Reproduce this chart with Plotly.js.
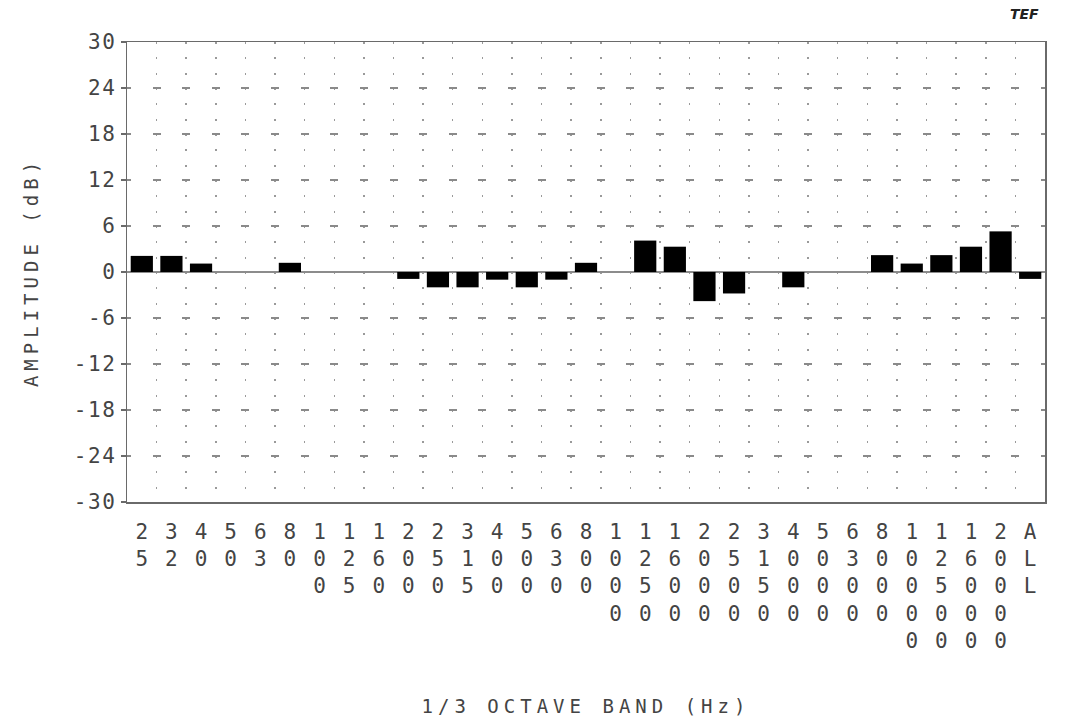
<!DOCTYPE html>
<html>
<head>
<meta charset="utf-8">
<script src="https://cdn.plot.ly/plotly-3.0.1.min.js"></script>
<style>
  html, body { margin: 0; padding: 0; background: #fff; }
  #chart { width: 1065px; height: 726px; }
  .xtitle, .ytitle { letter-spacing: 5px; }
  .ytick text { letter-spacing: 1.5px; }
</style>
</head>
<body>
<div id="chart"></div>
<script>
// 1/3 octave band centre frequencies (Hz) plus overall
const bands = ["25","32","40","50","63","80","100","125","160","200","250","315","400","500","630","800",
               "1000","1250","1600","2000","2500","3150","4000","5000","6300","8000","10000","12500","16000","20000","ALL"];
// amplitude deviation (dB)
const amplitude = [2.1, 2.1, 1.1, 0, 0, 1.2, 0, 0, 0, -0.9, -2.0, -2.0, -1.0, -2.0, -1.0, 1.2,
                   0, 4.1, 3.3, -3.8, -2.8, 0, -2.0, 0, 0, 2.2, 1.1, 2.2, 3.3, 5.3, -0.9];
const yTicks = [-30, -24, -18, -12, -6, 0, 6, 12, 18, 24, 30];

// stacked-digit tick labels
const bandLabels = bands.map(b => b.split("").join("<br>"));

const W = 1065, H = 726;
const M = {l: 127, r: 20, t: 42, b: 224};
const plotW = W - M.l - M.r, plotH = H - M.t - M.b;
const catStep = plotW / bands.length;       // px per category
const minorStep = plotH / 30;               // px per 2 dB
const half = 4;

const trace = {
  type: "bar",
  x: bands,
  y: amplitude,
  marker: {color: "#000", line: {width: 0}},
  hoverinfo: "x+y"
};

const font = "DejaVu Sans Mono, Liberation Mono, monospace";

const layout = {
  width: W, height: H,
  margin: M,
  paper_bgcolor: "#fff",
  plot_bgcolor: "#fff",
  showlegend: false,
  bargap: 0.25,
  font: {family: font, color: "#444"},
  xaxis: {
    type: "category",
    tickmode: "array",
    tickvals: bands,
    ticktext: bandLabels,
    tickson: "boundaries",
    ticks: "",
    ticklabelstandoff: 10,
    tickfont: {family: font, size: 21, color: "#444"},
    showgrid: true,
    gridcolor: "#9a9a9a",
    gridwidth: 1.5,
    griddash: "2px," + (minorStep - 2).toFixed(3) + "px",
    showline: true, mirror: true, linecolor: "#6a6a6a", linewidth: 1.5,
    range: [-0.5, bands.length - 0.5],
    fixedrange: true,
    title: {text: "1/3 OCTAVE BAND (Hz)", font: {family: font, size: 19, color: "#444"}, standoff: 48},
    automargin: false
  },
  yaxis: {
    range: [-30, 30],
    tickmode: "array",
    tickvals: yTicks,
    ticktext: yTicks.map(String),
    ticks: "outside", ticklen: 5, tickcolor: "#6a6a6a", tickwidth: 1.2,
    tickfont: {family: font, size: 21, color: "#444"},
    showgrid: true,
    gridcolor: "#8a8a8a",
    gridwidth: 2,
    griddash: half + "px," + (catStep - 2 * half).toFixed(3) + "px," + half + "px,0px",
    zeroline: true, zerolinecolor: "#8c8c8c", zerolinewidth: 2.5,
    showline: true, mirror: true, linecolor: "#6a6a6a", linewidth: 1.5,
    fixedrange: true,
    title: {text: "AMPLITUDE (dB)", font: {family: font, size: 19, color: "#444"}, standoff: 30},
    automargin: false
  },
  annotations: [{
    text: "<b><i>TEF</i></b>",
    xref: "paper", yref: "paper",
    x: 1.0, y: 1.0, xanchor: "right", yanchor: "bottom",
    yshift: 18, xshift: -4,
    showarrow: false,
    font: {family: "DejaVu Sans, sans-serif", size: 14, color: "#222"}
  }]
};

Plotly.newPlot("chart", [trace], layout, {displayModeBar: false, staticPlot: true});
</script>
</body>
</html>
